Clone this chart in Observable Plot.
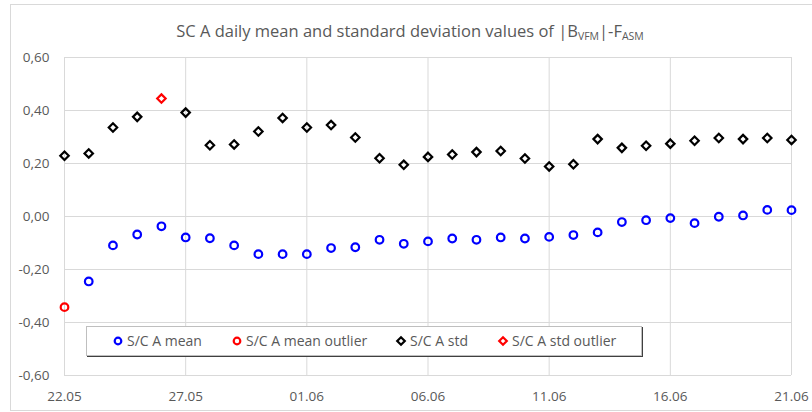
<!DOCTYPE html>
<html><head><meta charset="utf-8">
<script src="https://cdn.jsdelivr.net/npm/d3@7"></script>
<script src="https://cdn.jsdelivr.net/npm/@observablehq/plot@0.6"></script>
<style>
body{margin:0;background:#fff;font-family:"Open Sans","Noto Sans",sans-serif;}
#wrap{position:relative;width:812px;height:412px;overflow:hidden;background:#fff;}
#frame{position:absolute;left:10px;top:4px;width:820px;height:407px;border:1px solid #d9d9d9;box-sizing:border-box;pointer-events:none;}
#title{position:relative;height:45px;text-align:center;font-size:16.5px;color:#595959;line-height:20px;padding-top:21px;box-sizing:border-box;padding-left:8px;}
#title sub{font-size:10.5px;vertical-align:-3px;line-height:0;}
#chart{position:absolute;left:0;top:45px;}
#legend{position:absolute;left:86px;top:326px;width:556px;height:30px;background:#fff;border:1px solid #bfbfbf;box-shadow:1px 1px 0 #404040;box-sizing:border-box;font-size:14px;color:#595959;}
.item{position:absolute;top:0;height:28px;line-height:28px;white-space:nowrap;}
.item svg{position:absolute;left:-6px;top:8px;}
.item span{position:absolute;left:9px;}
</style>
</head><body>
<div id="wrap">
  <div id="frame"></div>
  <div id="title">SC A daily mean and standard deviation values of |B<sub>VFM</sub>|-F<sub>ASM</sub></div>
  <div id="chart"></div>
  <div id="legend"></div>
</div>
<script>
const days = ["22.05","23.05","24.05","25.05","26.05","27.05","28.05","29.05","30.05","31.05",
  "01.06","02.06","03.06","04.06","05.06","06.06","07.06","08.06","09.06","10.06",
  "11.06","12.06","13.06","14.06","15.06","16.06","17.06","18.06","19.06","20.06","21.06"];
const meanValues = [null,-0.245,-0.109,-0.068,-0.037,-0.079,-0.082,-0.109,-0.142,-0.142,
  -0.142,-0.119,-0.116,-0.088,-0.103,-0.094,-0.083,-0.088,-0.079,-0.083,
  -0.077,-0.070,-0.060,-0.021,-0.014,-0.006,-0.025,-0.001,0.004,0.025,0.024];
const stdValues = [0.229,0.238,0.336,0.376,null,0.392,0.269,0.272,0.321,0.372,
  0.336,0.345,0.298,0.220,0.195,0.225,0.234,0.243,0.247,0.219,
  0.189,0.197,0.292,0.259,0.267,0.275,0.286,0.296,0.292,0.296,0.289];
const meanOutlierDays = ["22.05"];
const meanOutlierValues = [-0.342];
const stdOutlierDays = ["26.05"];
const stdOutlierValues = [0.445];
const xTickLabels = ["22.05","27.05","01.06","06.06","11.06","16.06","21.06"];
const yTicks = [-0.6,-0.4,-0.2,0,0.2,0.4,0.6];
const seriesNames = ["S/C A mean","S/C A mean outlier","S/C A std","S/C A std outlier"];

const parse = d3.utcParse("%d.%m.%Y");
const toDate = s => parse(s + ".2021");
const meanData = days.map((d,i)=>({date:toDate(d), v:meanValues[i]}));
const stdData = days.map((d,i)=>({date:toDate(d), v:stdValues[i]}));
const meanOut = meanOutlierDays.map((d,i)=>({date:toDate(d), v:meanOutlierValues[i]}));
const stdOut = stdOutlierDays.map((d,i)=>({date:toDate(d), v:stdOutlierValues[i]}));
const xTicks = xTickLabels.map(toDate);
const fmtY = d => (d < 0 ? "-" : "") + Math.abs(d).toFixed(2).replace(".", ",");

const blue = "#0000ff", red = "#ff0000", black = "#000000";
const circleR = 3.8, diamondR = 3.8;

const chart = Plot.plot({
  width: 812, height: 367,
  marginTop: 12, marginBottom: 37, marginLeft: 64, marginRight: 21,
  style: {fontFamily: '"Open Sans","Noto Sans",sans-serif', fontSize: "13.5px", color: "#595959", background: "transparent", overflow: "visible"},
  x: {type: "utc", domain: [toDate(days[0]), toDate(days[days.length-1])], ticks: xTicks,
      tickFormat: d3.utcFormat("%d.%m"), tickSize: 0, tickPadding: 16, label: null},
  y: {domain: [-0.6, 0.6], ticks: yTicks, tickFormat: fmtY, tickSize: 0, tickPadding: 15, label: null},
  marks: [
    Plot.gridX(xTicks, {stroke: "#d9d9d9", strokeOpacity: 1, strokeWidth: 1}),
    Plot.gridY(yTicks, {stroke: "#d9d9d9", strokeOpacity: 1, strokeWidth: 1}),
    Plot.dot(stdData, {x: "date", y: "v", symbol: "diamond2", r: diamondR, stroke: black, strokeWidth: 2.2, fill: "none"}),
    Plot.dot(stdOut, {x: "date", y: "v", symbol: "diamond2", r: diamondR, stroke: red, strokeWidth: 2.2, fill: "none"}),
    Plot.dot(meanData, {x: "date", y: "v", symbol: "circle", r: circleR, stroke: blue, strokeWidth: 2.2, fill: "none"}),
    Plot.dot(meanOut, {x: "date", y: "v", symbol: "circle", r: circleR, stroke: red, strokeWidth: 2.2, fill: "none"})
  ]
});
document.getElementById("chart").appendChild(chart);

// legend
const legendItems = [
  {name: seriesNames[0], color: blue, sym: "circle", left: 31},
  {name: seriesNames[1], color: red, sym: "circle", left: 150},
  {name: seriesNames[2], color: black, sym: "diamond", left: 314},
  {name: seriesNames[3], color: red, sym: "diamond", left: 416}
];
const legend = document.getElementById("legend");
for (const it of legendItems) {
  const div = document.createElement("div");
  div.className = "item";
  div.style.left = it.left + "px";
  const shape = it.sym === "circle"
    ? `<circle cx="6" cy="6" r="3.3" fill="none" stroke="${it.color}" stroke-width="2.2"/>`
    : `<path d="M6,2.2L9.8,6L6,9.8L2.2,6Z" fill="none" stroke="${it.color}" stroke-width="2.2"/>`;
  div.innerHTML = `<svg width="12" height="12">${shape}</svg><span>${it.name}</span>`;
  legend.appendChild(div);
}
</script>
</body></html>
